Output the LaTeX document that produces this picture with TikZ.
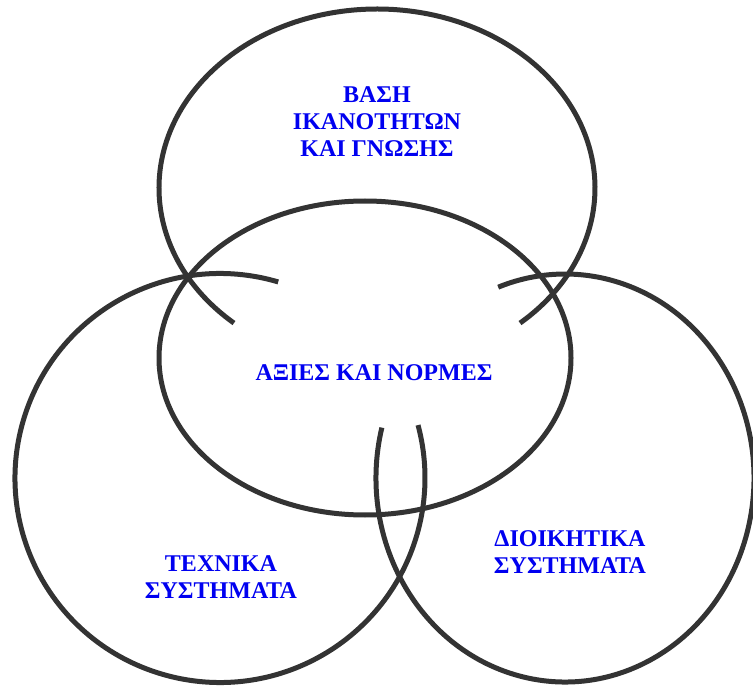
\documentclass[tikz,border=0pt]{standalone}
\usepackage{fontspec}
\setmainfont{Liberation Serif}
\definecolor{ringgray}{HTML}{333333}
\definecolor{labelblue}{HTML}{0000F0}
\begin{document}
\begin{tikzpicture}[x=1pt,y=1pt,
  ring/.style={draw=ringgray, line width=5pt, line cap=butt},
  lbl/.style={text=labelblue, font=\fontsize{24}{27}\selectfont\bfseries, align=center, inner sep=0pt}]
\useasboundingbox (0,0) rectangle (753,-687);
% centres
\coordinate (ctop) at (377,-188);
\coordinate (cmid) at (365,-358);
\coordinate (cleft) at (220,-478);
\coordinate (cright) at (565,-478);
% top ellipse (open at the bottom)
\draw[ring, shift={(ctop)}] (229:218 and 179) arc[start angle=229, end angle=-49, x radius=218, y radius=179];
% middle ellipse (closed)
\draw[ring] (cmid) ellipse[x radius=206, y radius=157];
% left circle (open at upper right)
\draw[ring, shift={(cleft)}] (73.5:205 and 204.5) arc[start angle=73.5, end angle=375, x radius=205, y radius=204.5];
% right circle (open at upper left)
\draw[ring, shift={(cright)}] (165.7:189 and 204) arc[start angle=165.7, end angle=470.7, x radius=189, y radius=204];
% labels
\node[lbl] (base) at (377,-122) {ΒΑΣΗ\\ΙΚΑΝΟΤΗΤΩΝ\\ΚΑΙ ΓΝΩΣΗΣ};
\node[lbl] (axies) at (374,-372.5) {ΑΞΙΕΣ ΚΑΙ ΝΟΡΜΕΣ};
\node[lbl] (texnika) at (221,-577) {ΤΕΧΝΙΚΑ\\ΣΥΣΤΗΜΑΤΑ};
\node[lbl] (dioikitika) at (570,-552.5) {ΔΙΟΙΚΗΤΙΚΑ\\ΣΥΣΤΗΜΑΤΑ};
\end{tikzpicture}
\end{document}
